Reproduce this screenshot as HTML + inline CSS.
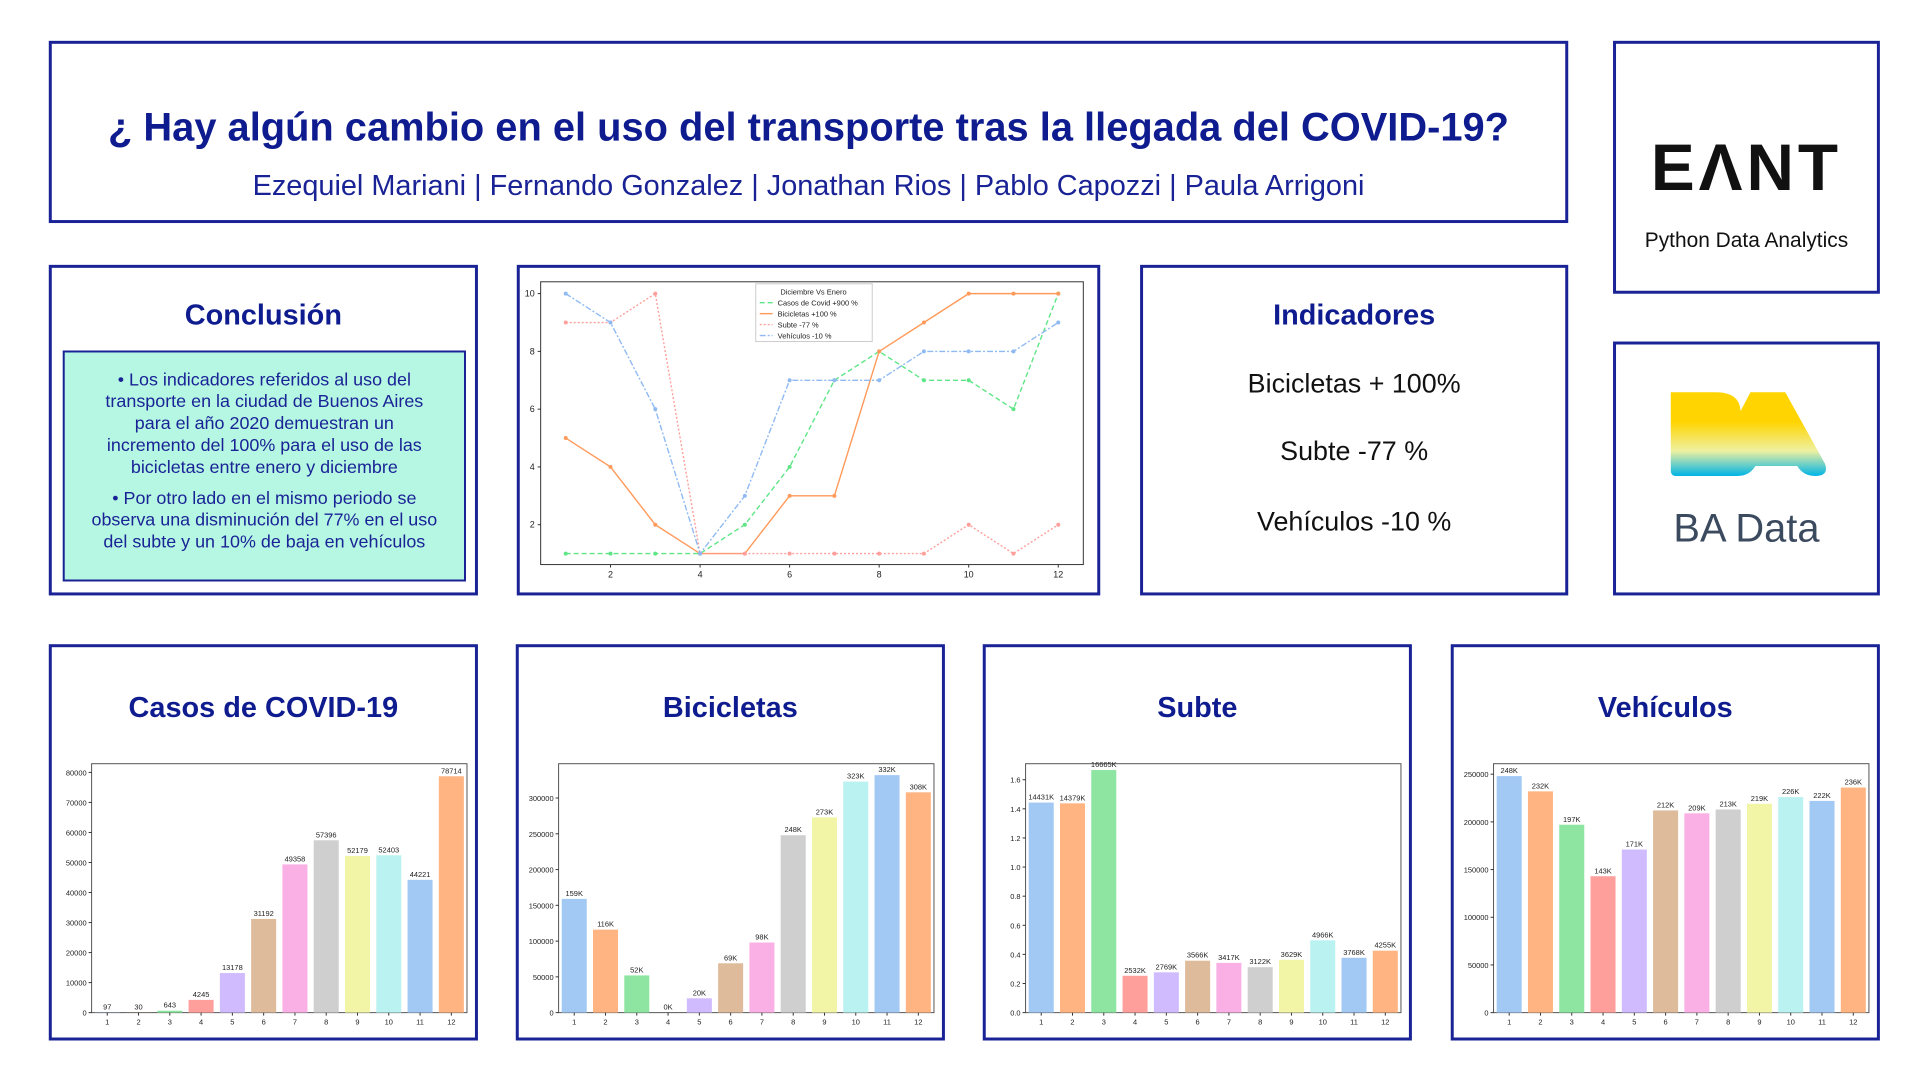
<!DOCTYPE html>
<html><head><meta charset="utf-8">
<style>
body{margin:0;width:1920px;height:1080px;background:#fff;position:relative;overflow:hidden;font-family:"Liberation Sans",sans-serif}
#wrap{position:absolute;left:0;top:0;width:1920px;height:1080px;transform:scale(0.9957);transform-origin:0 0}
.box{position:absolute;border:3px solid #1a2396;box-sizing:border-box;background:#fff}
.h{position:absolute;left:0;right:0;text-align:center;color:#0f1c8f;font-weight:bold}
svg text{font-family:"Liberation Sans",sans-serif}
</style></head><body>
<div id="wrap">
<div class="box" style="left:49px;top:41px;width:1526px;height:183px">
 <div class="h" style="top:62px;font-size:40px;white-space:nowrap">¿ Hay algún cambio en el uso del transporte tras la llegada del COVID-19?</div>
 <div class="h" style="top:127px;font-size:29px;font-weight:normal;color:#1a2396;white-space:nowrap">Ezequiel Mariani | Fernando Gonzalez | Jonathan Rios | Pablo Capozzi | Paula Arrigoni</div>
</div>
<div class="box" style="left:1620px;top:41px;width:268px;height:254px">
 <div style="position:absolute;left:0;right:0;top:86px;text-align:center;font-size:66px;font-weight:bold;letter-spacing:4px;color:#111">EΛNT</div>
 <div style="position:absolute;left:0;right:0;top:186px;text-align:center;font-size:21px;color:#111">Python Data Analytics</div>
</div>
<div class="box" style="left:1620px;top:343px;width:268px;height:255px">
 <svg width="262" height="249" style="position:absolute;left:0;top:0">
  <defs><linearGradient id="bg" x1="0" y1="0" x2="0" y2="1"><stop offset="0" stop-color="#ffd400"/><stop offset="0.35" stop-color="#ffd400"/><stop offset="0.7" stop-color="#eef0a0"/><stop offset="1" stop-color="#00b4e6"/></linearGradient></defs>
  <path d="M55 48 H100 Q125 48 125 68 Q125 80 115 86 L135 48 H170 L210 120 Q214 132 200 132 Q188 132 182 122 H140 Q134 132 122 132 H60 Q55 132 55 126 Z" fill="url(#bg)"/>
  <text x="131" y="198" text-anchor="middle" font-size="40" fill="#3b4a5e">BA Data</text>
 </svg>
</div>
<div class="box" style="left:49px;top:266px;width:431px;height:332px">
 <div class="h" style="top:32px;font-size:29px">Conclusión</div>
 <div style="position:absolute;left:11px;top:83px;width:405px;height:232px;box-sizing:border-box;border:2px solid #1a2396;background:#b5f7e2;color:#1a2396;font-size:18px;line-height:22px;text-align:center;padding:16px 26px">
  • Los indicadores referidos al uso del transporte en la ciudad de Buenos Aires para el año 2020 demuestran un incremento del 100% para el uso de las bicicletas entre enero y diciembre<div style="height:9px"></div>• Por otro lado en el mismo periodo se observa una disminución del 77% en el uso del subte y un 10% de baja en vehículos
 </div>
</div>
<div class="box" style="left:519px;top:266px;width:586px;height:332px"></div>
<div class="box" style="left:1145px;top:266px;width:430px;height:332px">
 <div class="h" style="top:32px;font-size:29px">Indicadores</div>
 <div class="h" style="top:101px;font-size:27px;font-weight:normal;color:#111">Bicicletas + 100%</div>
 <div class="h" style="top:169px;font-size:27px;font-weight:normal;color:#111">Subte -77 %</div>
 <div class="h" style="top:240px;font-size:27px;font-weight:normal;color:#111">Vehículos -10 %</div>
</div>
<div class="box" style="left:49px;top:647px;width:431px;height:398px"><div class="h" style="top:45px;font-size:29px">Casos de COVID-19</div></div>
<div class="box" style="left:518px;top:647px;width:431px;height:398px"><div class="h" style="top:45px;font-size:29px">Bicicletas</div></div>
<div class="box" style="left:987px;top:647px;width:431px;height:398px"><div class="h" style="top:45px;font-size:29px">Subte</div></div>
<div class="box" style="left:1457px;top:647px;width:431px;height:398px"><div class="h" style="top:45px;font-size:29px">Vehículos</div></div>
<svg id="charts" width="1920" height="1080" style="position:absolute;left:0;top:0;pointer-events:none"></svg>
</div>
<script>
const months=[1,2,3,4,5,6,7,8,9,10,11,12];
const lineCovid=[1,1,1,1,2,4,7,8,7,7,6,10];
const lineBicis=[5,4,2,1,1,3,3,8,9,10,10,10];
const lineSubte=[9,9,10,1,1,1,1,1,1,2,1,2];
const lineVeh=[10,9,6,1,3,7,7,7,8,8,8,9];
const lineXTicks=[2,4,6,8,10,12];
const lineYTicks=[2,4,6,8,10];
const legendLabels=["Casos de Covid +900 %","Bicicletas +100 %","Subte -77 %","Vehículos -10 %"];
const covidVals=[97,30,643,4245,13178,31192,49358,57396,52179,52403,44221,78714];
const covidLabels=["97","30","643","4245","13178","31192","49358","57396","52179","52403","44221","78714"];
const covidTicks=[0,10000,20000,30000,40000,50000,60000,70000,80000];
const bicisVals=[159,116,52,0,20,69,98,248,273,323,332,308];
const subteVals=[14431,14379,16665,2532,2769,3566,3417,3122,3629,4966,3768,4255];
const subteTicks=[0,0.2,0.4,0.6,0.8,1.0,1.2,1.4,1.6];
const vehVals=[248,232,197,143,171,212,209,213,219,226,222,236];
const pal=["#a1c9f4","#ffb482","#8de5a1","#ff9f9b","#d0bbff","#debb9b","#fab0e4","#cfcfcf","#f2f5a6","#b9f2f0","#a1c9f4","#ffb482"];
const NS="http://www.w3.org/2000/svg";
const svg=document.getElementById('charts');
function mk(tag,attrs,parent){const e=document.createElementNS(NS,tag);for(const k in attrs)e.setAttribute(k,attrs[k]);(parent||svg).appendChild(e);return e;}
function txt(x,y,s,size,anchor,parent,fill){const t=mk('text',{x:x,y:y,'font-size':size,'text-anchor':anchor||'middle',fill:fill||'#222'},parent);t.textContent=s;return t;}

(function(){
 const L=543,R=1088,T=283,B=567,x0=0.44,x1=12.56,y0=0.62,y1=10.41;
 const sx=v=>L+(v-x0)/(x1-x0)*(R-L), sy=v=>B-(v-y0)/(y1-y0)*(B-T);
 const g=mk('g',{});
 
 
 mk('rect',{x:L,y:T,width:R-L,height:B-T,fill:'none',stroke:'#333','stroke-width':1},g);
 lineXTicks.forEach(v=>{mk('line',{x1:sx(v),x2:sx(v),y1:B,y2:B+3,stroke:'#333'},g);txt(sx(v),B+13,String(v),9,'middle',g);});
 lineYTicks.forEach(v=>{mk('line',{x1:L-3,x2:L,y1:sy(v),y2:sy(v),stroke:'#333'},g);txt(L-6,sy(v)+3,String(v),9,'end',g);});
 const series=[[lineCovid,'#5ee585','5,3','covid'],[lineBicis,'#ff9a5a','','bicicletas'],[lineSubte,'#ff9f9b','2,2','subte'],[lineVeh,'#8fbaf2','6,2,2,2','vehiculos']];
 series.forEach(s=>{
  const p=mk('polyline',{points:s[0].map((v,i)=>sx(months[i])+','+sy(v)).join(' '),fill:'none',stroke:s[1],'stroke-width':1.4,'stroke-dasharray':s[2]},g);
  
  
  s[0].forEach((v,i)=>{const c=mk('circle',{cx:sx(months[i]),cy:sy(v),r:2,fill:s[1]},g);
   
   });
 });
 const lg=mk('g',{},g);
 
 
 mk('rect',{x:759,y:285,width:117,height:58,fill:'#fff',stroke:'#ccc'},lg);
 txt(817,296,'Diciembre Vs Enero',7.5,'middle',lg);
 legendLabels.forEach((s,i)=>{const y=307+i*11;mk('line',{x1:763,x2:776,y1:y-3,y2:y-3,stroke:series[i][1],'stroke-width':1.4,'stroke-dasharray':series[i][2]},lg);txt(781,y,s,7.5,'start',lg);});
})();

function bars(name,bx,by,vals,labels,ticks,tickFmt,ymax){
 const L=bx+43,R=bx+420,T=by+120,B=by+370;
 const g=mk('g',{});
 
 
 const slot=(R-L)/12, sy=v=>B-v/ymax*(B-T);
 mk('rect',{x:L,y:T,width:R-L,height:B-T,fill:'none',stroke:'#555','stroke-width':1},g);
 ticks.forEach(v=>{mk('line',{x1:L-3,x2:L,y1:sy(v),y2:sy(v),stroke:'#333'},g);txt(L-5,sy(v)+3,tickFmt(v),7.5,'end',g);});
 vals.forEach((v,i)=>{
  const cx=L+slot*(i+0.5),w=slot*0.8;
  const r=mk('rect',{x:cx-w/2,y:sy(v),width:w,height:B-sy(v),fill:pal[i]},g);
  
  
  txt(cx,sy(v)-3,labels[i],7.5,'middle',g);
  mk('line',{x1:cx,x2:cx,y1:B,y2:B+3,stroke:'#333'},g);
  txt(cx,B+12,String(months[i]),7.5,'middle',g);
 });
}
bars('covid',49,647,covidVals,covidLabels,covidTicks,v=>String(v),82900);
bars('bicicletas',518,647,bicisVals.map(v=>v*1000),bicisVals.map(v=>v+'K'),[0,50000,100000,150000,200000,250000,300000],v=>String(v),348000);
bars('subte',987,647,subteVals.map(v=>v/10000),subteVals.map(v=>v+'K'),subteTicks,v=>v.toFixed(1),1.71);
bars('vehiculos',1457,647,vehVals.map(v=>v*1000),vehVals.map(v=>v+'K'),[0,50000,100000,150000,200000,250000],v=>String(v),261000);
</script>
</body></html>
